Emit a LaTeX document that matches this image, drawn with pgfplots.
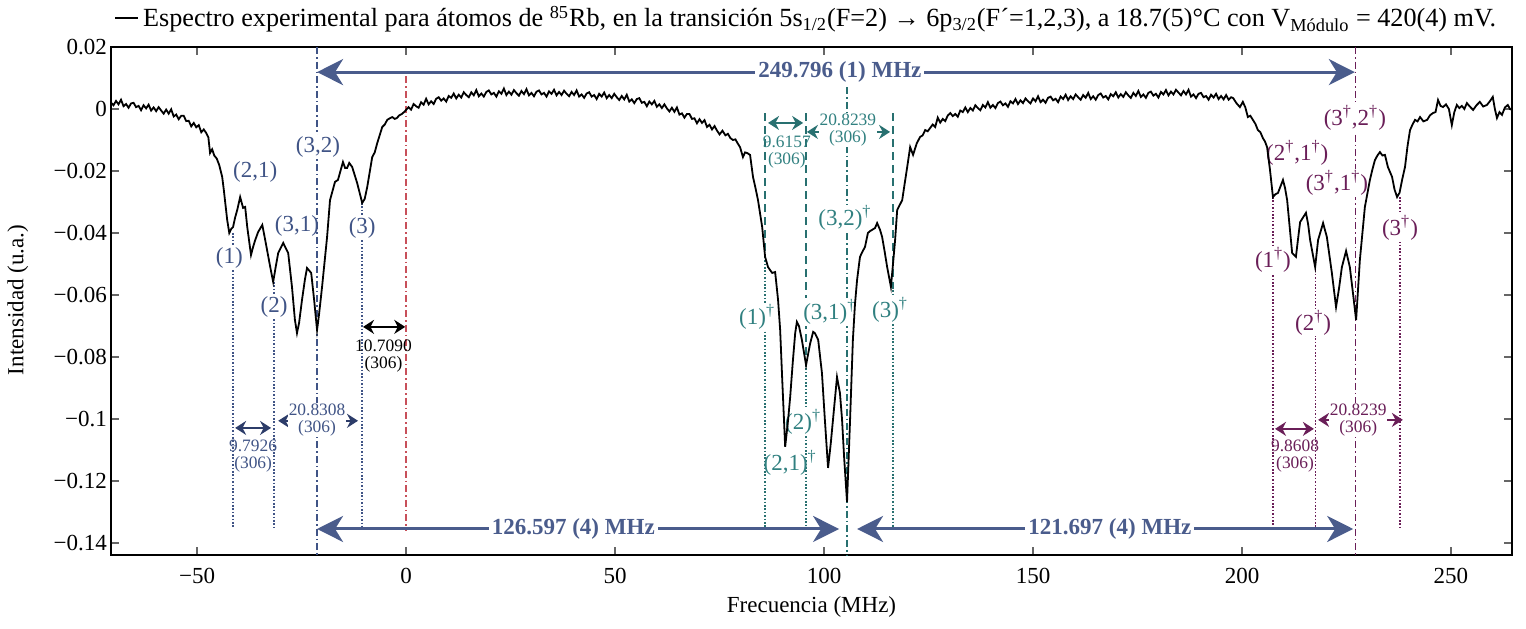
\documentclass[border=0pt]{standalone}
\usepackage{fontspec}
\setmainfont{Liberation Serif}
\usepackage{pgfplots}
\pgfplotsset{compat=1.18}
\usetikzlibrary{arrows.meta}

\newcommand{\fnorm}{\fontsize{11.5}{13.5}\selectfont}
\newcommand{\ftitle}{\fontsize{13.1}{15}\selectfont}
\newcommand{\fsmall}{\fontsize{8.7}{8.5}\selectfont}
\newcommand{\dg}{\textsuperscript{†}}

\definecolor{navyT}{RGB}{64,84,134}
\definecolor{navyA}{RGB}{44,60,105}
\definecolor{bigA}{RGB}{74,92,140}
\definecolor{tealT}{RGB}{48,128,128}
\definecolor{tealA}{RGB}{40,112,112}
\definecolor{purp}{RGB}{106,30,88}
\definecolor{redL}{RGB}{200,80,90}

\tikzset{
  dotl/.style={line width=0.9pt, dash pattern=on 0.8pt off 0.9pt},
  dashl/.style={line width=0.8pt, dash pattern=on 4pt off 2.5pt},
  ddot/.style={line width=0.8pt, dash pattern=on 3.5pt off 1.5pt on 0.8pt off 1.5pt},
  bigarr/.style={line width=1.5pt, bigA, arrows={Stealth[length=13pt,width=13pt,inset=4pt]-Stealth[length=13pt,width=13pt,inset=4pt]}},
  smarr/.style={line width=1.3pt, arrows={Stealth[length=5.5pt,width=7pt,inset=1.8pt]-Stealth[length=5.5pt,width=7pt,inset=1.8pt]}},
  lab/.style={font=\fnorm, inner sep=0.6pt},
  wlab/.style={font=\fnorm, inner sep=0.6pt, fill=white},
  num/.style={font=\fsmall, align=center, inner sep=0.5pt},
}

\begin{document}
\begin{tikzpicture}
\useasboundingbox (-55.5pt,-36.5pt) rectangle (707.5pt,277.5pt);
\begin{axis}[
  scale only axis, width=700.5pt, height=254pt,
  xmin=-70.6, xmax=264.6, ymin=-0.1439, ymax=0.02,
  xtick={-50,0,50,100,150,200,250},
  xticklabels={−50,0,50,100,150,200,250},
  ytick={-0.14,-0.12,-0.1,-0.08,-0.06,-0.04,-0.02,0,0.02},
  yticklabels={−0.14,−0.12,−0.1,−0.08,−0.06,−0.04,−0.02,0,0.02},
  scaled ticks=false,
  tick align=inside, tick pos=both, ticklabel pos=left,
  major tick length=4pt,
  tick style={line width=1pt, color=black!60},
  axis line style={line width=1.25pt},
  ticklabel style={font=\fnorm},
  xticklabel style={yshift=-3pt},
  yticklabel style={xshift=1.5pt},
  xlabel={Frecuencia (MHz)},
  ylabel={Intensidad (u.a.)},
  label style={font=\fnorm},
  xlabel style={at={(axis description cs:0.5,-0.1024)}, anchor=center},
  ylabel style={at={(axis description cs:-0.0664,0.502)}, anchor=center},
  legend style={at={(axis description cs:0.497,1.057)}, anchor=center,
    draw=none, fill=none, font=\ftitle, inner sep=0pt},
  legend image code/.code={\draw[#1] (0pt,0pt) -- (11.5pt,0pt);},
]

% ---- reference lines ----
\draw[ddot, navyT] (axis cs:-21.3,0.02) -- (axis cs:-21.3,-0.1439);
\draw[ddot, redL] (axis cs:0,0.0105) -- (axis cs:0,-0.1361);
\draw[dotl, navyT] (axis cs:-41.4,-0.0400) -- (axis cs:-41.4,-0.1348);
\draw[dotl, navyT] (axis cs:-31.6,-0.0558) -- (axis cs:-31.6,-0.1348);
\draw[dotl, navyT] (axis cs:-10.6,-0.0303) -- (axis cs:-10.6,-0.1348);

\draw[ddot, tealA] (axis cs:105.5,0.007) -- (axis cs:105.5,-0.1439);
\draw[dashl, tealA] (axis cs:85.9,-0.0013) -- (axis cs:85.9,-0.0477);
\draw[dotl, tealA, line width=1.1pt] (axis cs:85.9,-0.0477) -- (axis cs:85.9,-0.1348);
\draw[dashl, tealA] (axis cs:95.7,-0.0013) -- (axis cs:95.7,-0.0826);
\draw[dotl, tealA, line width=1.1pt] (axis cs:95.7,-0.0826) -- (axis cs:95.7,-0.1348);
\draw[dashl, tealA] (axis cs:116.5,-0.0013) -- (axis cs:116.5,-0.0574);
\draw[dotl, tealA, line width=1.1pt] (axis cs:116.5,-0.0574) -- (axis cs:116.5,-0.1348);

\draw[ddot, purp] (axis cs:227.2,0.02) -- (axis cs:227.2,-0.1439);
\draw[dotl, purp] (axis cs:207.4,-0.0284) -- (axis cs:207.4,-0.1348);
\draw[dotl, purp] (axis cs:217.6,-0.0510) -- (axis cs:217.6,-0.1348);
\draw[dotl, purp] (axis cs:237.8,-0.0284) -- (axis cs:237.8,-0.1355);

% ---- spacing arrows ----
\draw[bigarr] (axis cs:-21.3,0.0119) -- (axis cs:227.0,0.0119);
\draw[bigarr] (axis cs:-21.3,-0.1355) -- (axis cs:103.6,-0.1355);
\draw[bigarr] (axis cs:107.9,-0.1355) -- (axis cs:226.6,-0.1355);

\draw[smarr, black] (axis cs:-10.3,-0.0703) -- (axis cs:-0.2,-0.0703);
\draw[smarr, navyA] (axis cs:-40.9,-0.1029) -- (axis cs:-32.3,-0.1029);
\draw[smarr, navyA] (axis cs:-30.6,-0.1006) -- (axis cs:-11.5,-0.1006);
\draw[smarr, tealA] (axis cs:86.6,-0.0045) -- (axis cs:95.0,-0.0045);
\draw[smarr, tealA] (axis cs:95.9,-0.0074) -- (axis cs:115.8,-0.0074);
\draw[smarr, purp] (axis cs:207.9,-0.1032) -- (axis cs:217.2,-0.1032);
\draw[smarr, purp] (axis cs:218.2,-0.1003) -- (axis cs:238.5,-0.1003);

% ---- value labels ----
\node[font=\bfseries\fnorm, text=bigA, fill=white, inner sep=1.5pt] at (axis cs:103.8,0.0119) {249.796 (1) MHz};
\node[font=\bfseries\fnorm, text=bigA, fill=white, inner sep=1.5pt] at (axis cs:40.0,-0.1355) {126.597 (4) MHz};
\node[font=\bfseries\fnorm, text=bigA, fill=white, inner sep=1.5pt] at (axis cs:168.4,-0.1355) {121.697 (4) MHz};

\node[num, text=black] at (axis cs:-5.4,-0.0797) {10.7090\\(306)};
\node[num, text=navyT] at (axis cs:-36.6,-0.1119) {9.7926\\(306)};
\node[num, text=navyT, fill=white] at (axis cs:-21.3,-0.1003) {20.8308\\(306)};
\node[num, text=tealT] at (axis cs:91.1,-0.0139) {9.6157\\(306)};
\node[num, text=tealT, fill=white] at (axis cs:105.7,-0.0068) {20.8239\\(306)};
\node[num, text=purp] at (axis cs:212.7,-0.1119) {9.8608\\(306)};
\node[num, text=purp, fill=white] at (axis cs:227.8,-0.1003) {20.8239\\(306)};

% ---- transition labels ----
\node[lab, text=navyT] at (axis cs:-36.1,-0.0203) {(2,1)};
\node[wlab, text=navyT] at (axis cs:-21.1,-0.0123) {(3,2)};
\node[wlab, text=navyT] at (axis cs:-42.3,-0.0481) {(1)};
\node[lab, text=navyT] at (axis cs:-26.1,-0.0377) {(3,1)};
\node[wlab, text=navyT] at (axis cs:-10.5,-0.0384) {(3)};
\node[wlab, text=navyT] at (axis cs:-31.6,-0.0639) {(2)};

\node[wlab, text=tealT] at (axis cs:105.0,-0.0352) {(3,2)\dg};
\node[wlab, text=tealT] at (axis cs:84.0,-0.0671) {(1)\dg};
\node[wlab, text=tealT] at (axis cs:101.4,-0.0655) {(3,1)\dg};
\node[wlab, text=tealT] at (axis cs:115.8,-0.0648) {(3)\dg};
\node[wlab, text=tealT] at (axis cs:95.0,-0.1010) {(2)\dg};
\node[lab, text=tealT] at (axis cs:91.9,-0.1142) {(2,1)\dg};

\node[wlab, text=purp] at (axis cs:227.0,-0.0029) {(3\dg,2\dg)};
\node[lab, text=purp] at (axis cs:213.2,-0.0142) {(2\dg,1\dg)};
\node[wlab, text=purp] at (axis cs:222.7,-0.0239) {(3\dg,1\dg)};
\node[wlab, text=purp] at (axis cs:207.4,-0.0487) {(1\dg)};
\node[wlab, text=purp] at (axis cs:237.8,-0.0384) {(3\dg)};
\node[wlab, text=purp] at (axis cs:217.0,-0.0690) {(2\dg)};

% ---- measured spectrum ----
\addplot[black, line width=0.9pt] table {
x y
-70.6 0.0021
-70.0 0.0012
-69.4 0.0026
-68.8 0.0015
-68.2 0.0030
-67.6 0.0009
-67.0 0.0016
-66.4 0.0004
-65.8 0.0018
-65.2 0.0020
-64.6 0.0006
-64.0 0.0010
-63.4 -0.0004
-62.8 0.0012
-62.2 0.0002
-61.6 0.0014
-61.0 -0.0005
-60.4 0.0005
-59.8 -0.0007
-59.2 0.0006
-58.6 -0.0005
-58.0 -0.0015
-57.4 -0.0002
-56.8 -0.0015
-56.2 -0.0001
-55.6 -0.0024
-55.0 -0.0018
-54.4 -0.0033
-53.8 -0.0022
-53.2 -0.0022
-52.6 -0.0039
-52.0 -0.0038
-51.4 -0.0056
-50.8 -0.0045
-50.2 -0.0059
-49.6 -0.0052
-49.0 -0.0075
-48.4 -0.0066
-47.8 -0.0078
-47.3 -0.0092
-46.9 -0.0142
-46.4 -0.0130
-45.9 -0.0150
-45.3 -0.0160
-44.7 -0.0181
-44.0 -0.0219
-43.6 -0.0262
-42.8 -0.0358
-42.3 -0.0400
-41.8 -0.0386
-41.4 -0.0381
-40.9 -0.0350
-40.4 -0.0326
-39.7 -0.0284
-39.0 -0.0319
-38.5 -0.0316
-38.0 -0.0381
-37.1 -0.0471
-36.6 -0.0445
-36.1 -0.0423
-35.4 -0.0397
-34.4 -0.0374
-33.7 -0.0423
-32.5 -0.0510
-31.8 -0.0558
-31.2 -0.0510
-30.6 -0.0465
-29.4 -0.0432
-28.2 -0.0465
-27.3 -0.0574
-26.6 -0.0680
-26.1 -0.0723
-25.6 -0.0690
-24.9 -0.0616
-24.2 -0.0550
-23.7 -0.0513
-22.7 -0.0529
-22.0 -0.0616
-21.3 -0.0713
-20.8 -0.0660
-20.1 -0.0574
-18.9 -0.0413
-18.2 -0.0294
-17.0 -0.0235
-16.3 -0.0229
-15.7 -0.0200
-15.1 -0.0171
-14.6 -0.0190
-14.1 -0.0190
-13.6 -0.0174
-12.9 -0.0187
-11.7 -0.0239
-10.5 -0.0303
-9.9 -0.0290
-9.3 -0.0252
-8.1 -0.0155
-7.5 -0.0140
-6.9 -0.0110
-5.7 -0.0058
-5.1 -0.0050
-4.5 -0.0035
-3.9 -0.0030
-3.3 -0.0026
-2.7 -0.0032
-2.2 -0.0029
-1.6 -0.0020
-1.0 -0.0016
-0.5 -0.0010
0.0 -0.0003
0.6 0.0006
1.2 -0.0002
1.8 0.0016
2.4 0.0009
3.0 0.0004
3.6 0.0022
4.2 0.0014
4.8 0.0033
5.4 0.0015
6.0 0.0025
6.6 0.0016
7.2 0.0033
7.8 0.0038
8.4 0.0027
9.0 0.0034
9.6 0.0024
10.2 0.0042
10.8 0.0036
11.4 0.0050
12.0 0.0034
12.6 0.0046
13.2 0.0037
13.8 0.0054
14.4 0.0045
15.0 0.0038
15.6 0.0054
16.2 0.0044
16.8 0.0061
17.4 0.0041
18.0 0.0050
18.6 0.0040
19.2 0.0055
19.8 0.0060
20.4 0.0047
21.0 0.0052
21.6 0.0040
22.2 0.0057
22.8 0.0049
23.4 0.0066
24.0 0.0045
24.6 0.0056
25.2 0.0046
25.8 0.0061
26.4 0.0051
27.0 0.0043
27.6 0.0058
28.2 0.0048
28.8 0.0064
29.4 0.0044
30.0 0.0052
30.6 0.0041
31.2 0.0056
31.8 0.0060
32.4 0.0047
33.0 0.0052
33.6 0.0040
34.2 0.0057
34.8 0.0049
35.4 0.0062
36.0 0.0044
36.6 0.0055
37.2 0.0045
37.8 0.0059
38.4 0.0049
39.0 0.0041
39.6 0.0055
40.2 0.0045
40.8 0.0060
41.4 0.0040
42.0 0.0047
42.6 0.0036
43.2 0.0050
43.8 0.0054
44.4 0.0040
45.0 0.0045
45.6 0.0032
46.2 0.0049
46.8 0.0040
47.4 0.0053
48.0 0.0035
48.6 0.0045
49.2 0.0035
49.8 0.0049
50.4 0.0038
51.0 0.0029
51.6 0.0042
52.2 0.0031
52.8 0.0046
53.4 0.0024
54.0 0.0031
54.6 0.0019
55.2 0.0032
55.8 0.0035
56.4 0.0020
57.0 0.0023
57.6 0.0009
58.2 0.0024
58.8 0.0015
59.4 0.0026
60.0 0.0007
60.6 0.0015
61.2 0.0003
61.8 0.0015
62.4 0.0002
63.0 -0.0008
63.6 0.0004
64.2 -0.0009
64.8 0.0005
65.4 -0.0018
66.0 -0.0014
66.6 -0.0028
67.2 -0.0016
67.8 -0.0016
68.4 -0.0032
69.0 -0.0030
69.6 -0.0046
70.2 -0.0033
70.8 -0.0045
71.4 -0.0036
72.0 -0.0058
72.6 -0.0051
73.2 -0.0066
73.8 -0.0055
74.4 -0.0070
75.0 -0.0082
75.7 -0.0070
76.4 -0.0085
77.0 -0.0080
77.6 -0.0094
78.2 -0.0100
78.8 -0.0098
79.3 -0.0110
79.9 -0.0123
80.6 -0.0155
81.1 -0.0140
81.6 -0.0142
82.3 -0.0148
83.0 -0.0219
83.6 -0.0255
84.2 -0.0294
85.2 -0.0381
85.9 -0.0477
86.6 -0.0510
87.1 -0.0520
87.6 -0.0529
88.3 -0.0526
89.0 -0.0616
89.5 -0.0713
90.0 -0.0874
90.7 -0.1090
91.4 -0.1003
91.9 -0.0929
92.5 -0.0820
93.1 -0.0723
93.5 -0.0687
94.0 -0.0700
94.7 -0.0745
95.7 -0.0826
96.2 -0.0790
96.7 -0.0755
97.4 -0.0719
97.8 -0.0723
98.6 -0.0745
99.5 -0.0852
100.2 -0.1003
100.96 -0.1158
101.6 -0.1080
102.2 -0.0994
103.1 -0.0865
103.8 -0.0916
104.3 -0.1000
104.8 -0.1123
105.5 -0.1268
106.2 -0.1013
106.9 -0.0745
107.4 -0.0630
107.9 -0.0552
108.6 -0.0477
109.2 -0.0460
109.8 -0.0445
110.5 -0.0400
111.0 -0.0394
111.5 -0.0390
112.2 -0.0384
112.7 -0.0368
113.4 -0.0390
113.9 -0.0413
114.5 -0.0460
115.1 -0.0510
116.0 -0.0574
116.5 -0.0500
117.0 -0.0423
117.5 -0.0326
118.1 -0.0310
118.7 -0.0294
119.3 -0.0240
119.9 -0.0187
120.6 -0.0123
121.3 -0.0148
122.2 -0.0110
123.0 -0.0090
123.6 -0.0085
124.2 -0.0068
124.8 -0.0072
125.4 -0.0061
126.0 -0.0050
126.6 -0.0058
127.2 -0.0028
127.8 -0.0044
128.4 -0.0032
129.0 -0.0039
129.6 -0.0021
130.2 -0.0013
130.8 -0.0023
131.4 -0.0016
132.0 -0.0025
132.6 -0.0005
133.2 -0.0010
133.8 0.0005
134.4 -0.0010
135.0 0.0003
135.6 -0.0005
136.2 0.0012
136.8 0.0003
137.4 -0.0004
138.0 0.0013
138.6 0.0005
139.2 0.0022
139.8 0.0004
140.4 0.0013
141.0 0.0003
141.6 0.0019
142.2 0.0024
142.8 0.0012
143.4 0.0018
144.0 0.0007
144.6 0.0025
145.2 0.0018
145.8 0.0032
146.4 0.0016
147.0 0.0028
147.6 0.0019
148.2 0.0034
148.8 0.0025
149.4 0.0018
150.0 0.0034
150.6 0.0025
151.2 0.0041
151.8 0.0022
152.4 0.0030
153.0 0.0020
153.6 0.0036
154.2 0.0040
154.8 0.0028
155.4 0.0033
156.0 0.0022
156.6 0.0040
157.2 0.0032
157.8 0.0046
158.4 0.0029
159.0 0.0041
159.6 0.0032
160.2 0.0047
160.8 0.0038
161.4 0.0030
162.0 0.0045
162.6 0.0036
163.2 0.0052
163.8 0.0032
164.4 0.0041
165.0 0.0030
165.6 0.0045
166.2 0.0050
166.8 0.0037
167.4 0.0042
168.0 0.0031
168.6 0.0048
169.2 0.0041
169.8 0.0054
170.4 0.0037
171.0 0.0048
171.6 0.0039
172.2 0.0054
172.8 0.0044
173.4 0.0036
174.0 0.0052
174.6 0.0042
175.2 0.0058
175.8 0.0039
176.4 0.0047
177.0 0.0036
177.6 0.0052
178.2 0.0056
178.8 0.0043
179.4 0.0049
180.0 0.0037
180.6 0.0055
181.2 0.0047
181.8 0.0061
182.4 0.0044
183.0 0.0056
183.6 0.0047
184.2 0.0062
184.8 0.0053
185.4 0.0044
186.0 0.0058
186.6 0.0047
187.2 0.0062
187.8 0.0040
188.4 0.0047
189.0 0.0035
189.6 0.0049
190.2 0.0052
190.8 0.0038
191.4 0.0042
192.0 0.0030
192.6 0.0046
193.2 0.0037
193.8 0.0049
194.4 0.0032
195.0 0.0042
195.6 0.0031
196.2 0.0045
196.8 0.0030
197.4 0.0038
197.9 0.0035
198.6 0.0020
199.5 0.0006
200.2 0.0023
200.8 0.0005
201.4 -0.0026
202.0 -0.0022
202.6 -0.0035
203.2 -0.0048
203.8 -0.0068
204.4 -0.0075
205.0 -0.0094
205.5 -0.0105
206.0 -0.0123
206.7 -0.0197
207.4 -0.0284
208.0 -0.0275
208.6 -0.0271
209.8 -0.0229
210.3 -0.0255
210.8 -0.0294
211.4 -0.0380
212.0 -0.0465
212.9 -0.0477
213.4 -0.0420
213.9 -0.0365
214.6 -0.0350
215.3 -0.0335
215.8 -0.0370
216.3 -0.0423
217.5 -0.0510
218.2 -0.0423
219.4 -0.0368
220.3 -0.0413
221.5 -0.0529
222.5 -0.0639
223.2 -0.0580
223.9 -0.0510
224.9 -0.0458
225.8 -0.0510
226.6 -0.0600
227.3 -0.0681
228.2 -0.0487
229.4 -0.0316
230.6 -0.0229
231.2 -0.0195
231.8 -0.0165
232.4 -0.0150
233.0 -0.0139
233.6 -0.0150
234.2 -0.0148
234.9 -0.0187
235.9 -0.0219
236.5 -0.0260
237.1 -0.0284
237.7 -0.0270
238.3 -0.0229
239.0 -0.0187
239.6 -0.0120
240.2 -0.0068
240.8 -0.0050
241.4 -0.0035
242.0 -0.0040
242.6 -0.0026
243.4 -0.0040
244.3 -0.0035
245.0 -0.0020
245.7 -0.0013
246.3 -0.0010
246.9 0.0029
247.5 0.0010
248.1 0.0006
248.8 0.0015
249.5 0.0000
250.2 -0.0052
250.8 -0.0010
251.4 0.0013
252.0 0.0003
252.6 0.0010
253.2 0.0000
253.8 0.0019
254.5 0.0008
255.3 -0.0003
256.1 0.0012
256.9 0.0023
257.7 0.0008
258.6 0.0013
259.3 0.0025
260.0 0.0039
260.5 0.0000
261.0 -0.0029
261.6 -0.0010
262.2 -0.0019
262.9 0.0005
263.6 0.0013
264.1 0.0000
264.6 -0.0003
};
\addlegendentry{Espectro experimental para átomos de \textsuperscript{85}Rb, en la transición 5s\textsubscript{1/2}(F=2) → 6p\textsubscript{3/2}(F´=1,2,3), a 18.7(5)°C con V\textsubscript{Módulo} = 420(4) mV.}

\end{axis}
\end{tikzpicture}
\end{document}
